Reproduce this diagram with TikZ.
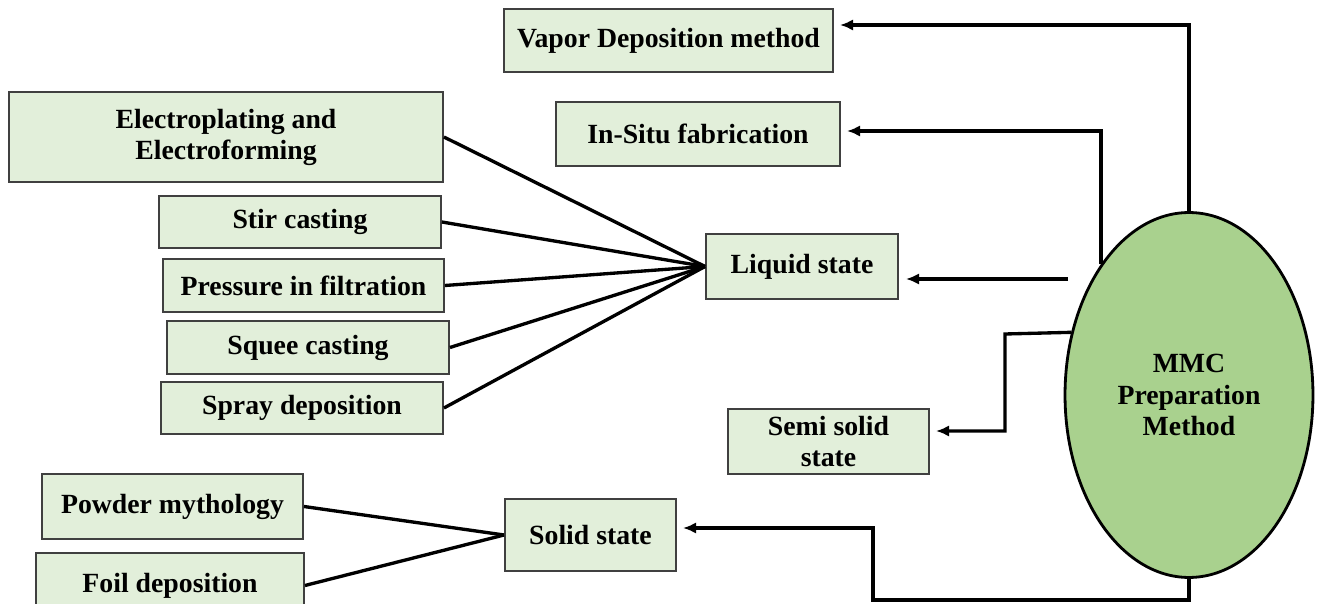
\documentclass[tikz,border=0pt]{standalone}
\usepackage{fontspec}
\setmainfont{Liberation Serif}
\usepackage{xcolor}
\usepackage{tikz}
\usetikzlibrary{arrows.meta, shapes}

\definecolor{boxfill}{HTML}{E2EFDA}
\definecolor{boxline}{HTML}{404040}
\definecolor{ovalfill}{HTML}{A9D18E}

\begin{document}
\begin{tikzpicture}[x=0.02cm, y=-0.02cm,
    box/.style={draw=boxline, fill=boxfill, line width=1.1pt, inner sep=2pt, align=center,
        font=\bfseries\fontsize{15.8}{17.7}\selectfont},
    link/.style={line width=1.9pt},
    arr/.style={line width=1.9pt, -{Latex[length=7.5pt,width=6.5pt]}, shorten >=0.14cm}]
        \useasboundingbox (0,0) rectangle (1320,604);

        % Main node
        \node (mmc) [draw, ellipse, line width=1.6pt, fill=ovalfill, minimum width=4.96cm, minimum height=7.3cm,
            align=center, font=\bfseries\fontsize{15.8}{17.7}\selectfont] at (1189,395) {MMC\\Preparation\\Method};

        % Methods
        \node (vapor) [box, minimum width=6.58cm, minimum height=1.26cm] at (668.5,40.5) {Vapor Deposition method};
        \node (insitu) [box, minimum width=5.68cm, minimum height=1.28cm] at (698,134) {In-Situ fabrication};
        \node (liquid) [box, minimum width=3.84cm, minimum height=1.3cm] at (802,266.5) {Liquid state};
        \node (semi) [box, minimum width=4.02cm, minimum height=1.3cm] at (828.5,441.5) {Semi solid\\state};
        \node (solid) [box, minimum width=3.42cm, minimum height=1.44cm] at (590.5,535) {Solid state};

        % Liquid state routes
        \node (electro) [box, minimum width=8.68cm, minimum height=1.8cm] at (226,137) {Electroplating and\\Electroforming};
        \node (stir) [box, minimum width=5.64cm, minimum height=1.04cm] at (300,222) {Stir casting};
        \node (pressure) [box, minimum width=5.62cm, minimum height=1.06cm] at (303.5,285.5) {Pressure in filtration};
        \node (squee) [box, minimum width=5.64cm, minimum height=1.06cm] at (308,347.5) {Squee casting};
        \node (spray) [box, minimum width=5.64cm, minimum height=1.04cm] at (302,408) {Spray deposition};

        % Solid state routes
        \node (powder) [box, minimum width=5.22cm, minimum height=1.3cm] at (172.5,506.5) {Powder mythology};
        \node (foil) [box, minimum width=5.36cm, minimum height=1.3cm] at (170,585.5) {Foil deposition};

        % Bends and free ends
        \coordinate (vapin) at (833,25);
        \coordinate (insitin) at (840,131);
        \coordinate (liqsrc) at (1068,279);
        \coordinate (semibend) at (1005,334);
        \coordinate (semiin) at (929,431);
        \coordinate (solbend) at (873,600);
        \coordinate (solin) at (676,528);

        % Arrows
        \draw[arr] (mmc.north) |- (vapin);
        \draw[arr] (mmc.124) |- (insitin);
        \draw[arr] (liqsrc) -- (liqsrc -| liquid.east);
        \draw[arr] (mmc.152.5) -- (semibend) |- (semiin);
        \draw[arr] (mmc.south) |- (solbend) |- (solin);

        % Lines
        \foreach \src in {electro, stir, pressure, squee, spray}
            \draw[link] (\src.east) -- (liquid.west);
        \draw[link] (powder.east) -- (solid.west);
        \draw[link] (foil.east) -- (solid.west);
    \end{tikzpicture}
\end{document}
